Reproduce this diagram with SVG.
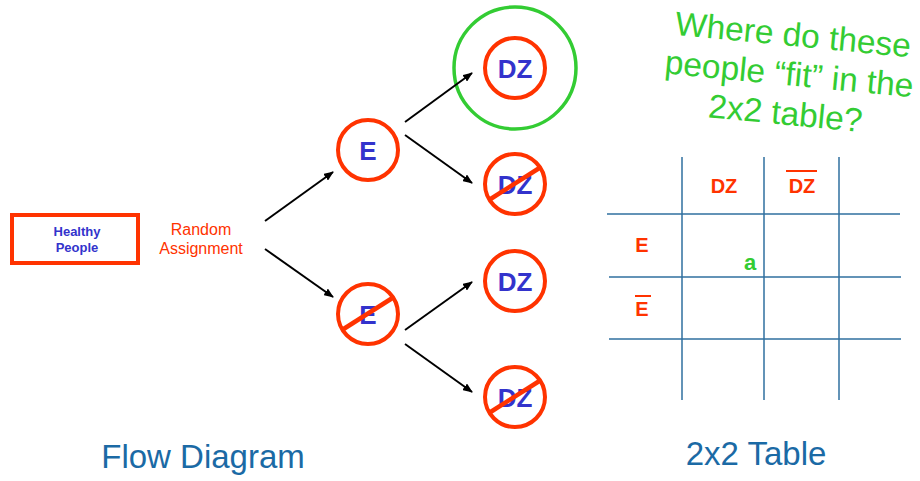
<svg xmlns="http://www.w3.org/2000/svg" width="920" height="481" viewBox="0 0 920 481">
  <defs>
    <marker id="arrow" markerWidth="10" markerHeight="8" refX="9" refY="4" orient="auto" markerUnits="userSpaceOnUse">
      <path d="M0,0 L10,4 L0,8 Z" fill="#000"/>
    </marker>
    <style>
      .ring { fill: #fff; stroke: #ff3300; stroke-width: 4; }
      .slash { stroke: #ff3300; stroke-width: 4.5; stroke-linecap: butt; }
      .node-label { font-family: "Liberation Sans", Arial, sans-serif; font-weight: bold; font-size: 26px; fill: #3333cc; text-anchor: middle; }
      .conn { stroke: #000; stroke-width: 2; fill: none; marker-end: url(#arrow); }
      .grid { stroke: #2f6f9f; stroke-width: 1.5; }
      .cell { font-family: "Liberation Sans", Arial, sans-serif; font-weight: bold; font-size: 20px; fill: #ff3300; text-anchor: middle; }
      .bar { stroke: #ff3300; stroke-width: 2; }
      .caption { font-family: "Liberation Sans", Arial, sans-serif; font-size: 33px; fill: #1b6aa5; text-anchor: middle; }
      .question { font-family: "Liberation Sans", Arial, sans-serif; font-size: 33.5px; fill: #33cc33; text-anchor: middle; }
    </style>
  </defs>

  <rect width="920" height="481" fill="#fff"/>

  <!-- starting population -->
  <g id="healthy">
    <rect x="12" y="215" width="126" height="48" fill="#fff" stroke="#ff3300" stroke-width="4"/>
    <text x="77" y="236" font-family="Liberation Sans, Arial, sans-serif" font-weight="bold" font-size="13" fill="#3333cc" text-anchor="middle">Healthy</text>
    <text x="77" y="252" font-family="Liberation Sans, Arial, sans-serif" font-weight="bold" font-size="13" fill="#3333cc" text-anchor="middle">People</text>
  </g>

  <g id="random-assignment">
    <text x="201" y="235" font-family="Liberation Sans, Arial, sans-serif" font-size="16" fill="#ff3300" text-anchor="middle">Random</text>
    <text x="201" y="254" font-family="Liberation Sans, Arial, sans-serif" font-size="16" fill="#ff3300" text-anchor="middle">Assignment</text>
  </g>

  <!-- exposure groups -->
  <g id="exposed">
    <circle class="ring" cx="368" cy="150" r="30"/>
    <text class="node-label" x="368" y="160">E</text>
  </g>
  <g id="unexposed">
    <circle class="ring" cx="368" cy="314" r="30"/>
    <text class="node-label" x="368" y="324">E</text>
    <line class="slash" x1="342" y1="330" x2="394" y2="297"/>
  </g>

  <!-- outcomes -->
  <g id="exposed-disease">
    <circle cx="515" cy="68" r="61" fill="none" stroke="#33cc33" stroke-width="3.5"/>
    <circle class="ring" cx="515" cy="68" r="30"/>
    <text class="node-label" x="515" y="78">DZ</text>
  </g>
  <g id="exposed-no-disease">
    <circle class="ring" cx="515" cy="184" r="30"/>
    <text class="node-label" x="515" y="194">DZ</text>
    <line class="slash" x1="489" y1="200" x2="541" y2="167"/>
  </g>
  <g id="unexposed-disease">
    <circle class="ring" cx="515" cy="281" r="30"/>
    <text class="node-label" x="515" y="291">DZ</text>
  </g>
  <g id="unexposed-no-disease">
    <circle class="ring" cx="515" cy="397" r="30"/>
    <text class="node-label" x="515" y="407">DZ</text>
    <line class="slash" x1="489" y1="413" x2="541" y2="380"/>
  </g>

  <g id="connectors">
    <line class="conn" x1="265" y1="221" x2="333" y2="172"/>
    <line class="conn" x1="265" y1="249" x2="333" y2="297"/>
    <line class="conn" x1="405" y1="122" x2="472" y2="73"/>
    <line class="conn" x1="405" y1="135" x2="472" y2="183"/>
    <line class="conn" x1="405" y1="330" x2="472" y2="282"/>
    <line class="conn" x1="405" y1="344" x2="472" y2="392"/>
  </g>

  <!-- 2x2 table -->
  <g id="table">
    <line class="grid" x1="682" y1="157" x2="682" y2="400"/>
    <line class="grid" x1="764" y1="157" x2="764" y2="400"/>
    <line class="grid" x1="839" y1="157" x2="839" y2="400"/>
    <line class="grid" x1="607" y1="214" x2="900" y2="214"/>
    <line class="grid" x1="609" y1="277" x2="901" y2="277"/>
    <line class="grid" x1="609" y1="339" x2="901" y2="339"/>
    <text class="cell" x="724" y="193">DZ</text>
    <text class="cell" x="802" y="193">DZ</text>
    <line class="bar" x1="786" y1="171" x2="817" y2="171"/>
    <text class="cell" x="642" y="252">E</text>
    <text class="cell" x="642" y="316">E</text>
    <line class="bar" x1="635" y1="296" x2="651" y2="296"/>
    <text x="750" y="270" font-family="Liberation Sans, Arial, sans-serif" font-weight="bold" font-size="22" fill="#33cc33" text-anchor="middle">a</text>
  </g>

  <g id="question" transform="translate(792 46) rotate(5.5)">
    <text class="question" x="0" y="0">Where do these</text>
    <text class="question" x="0" y="39.5">people “fit” in the</text>
    <text class="question" x="0" y="79">2x2 table?</text>
  </g>

  <text class="caption" x="203" y="468">Flow Diagram</text>
  <text class="caption" x="756" y="465">2x2 Table</text>
</svg>
